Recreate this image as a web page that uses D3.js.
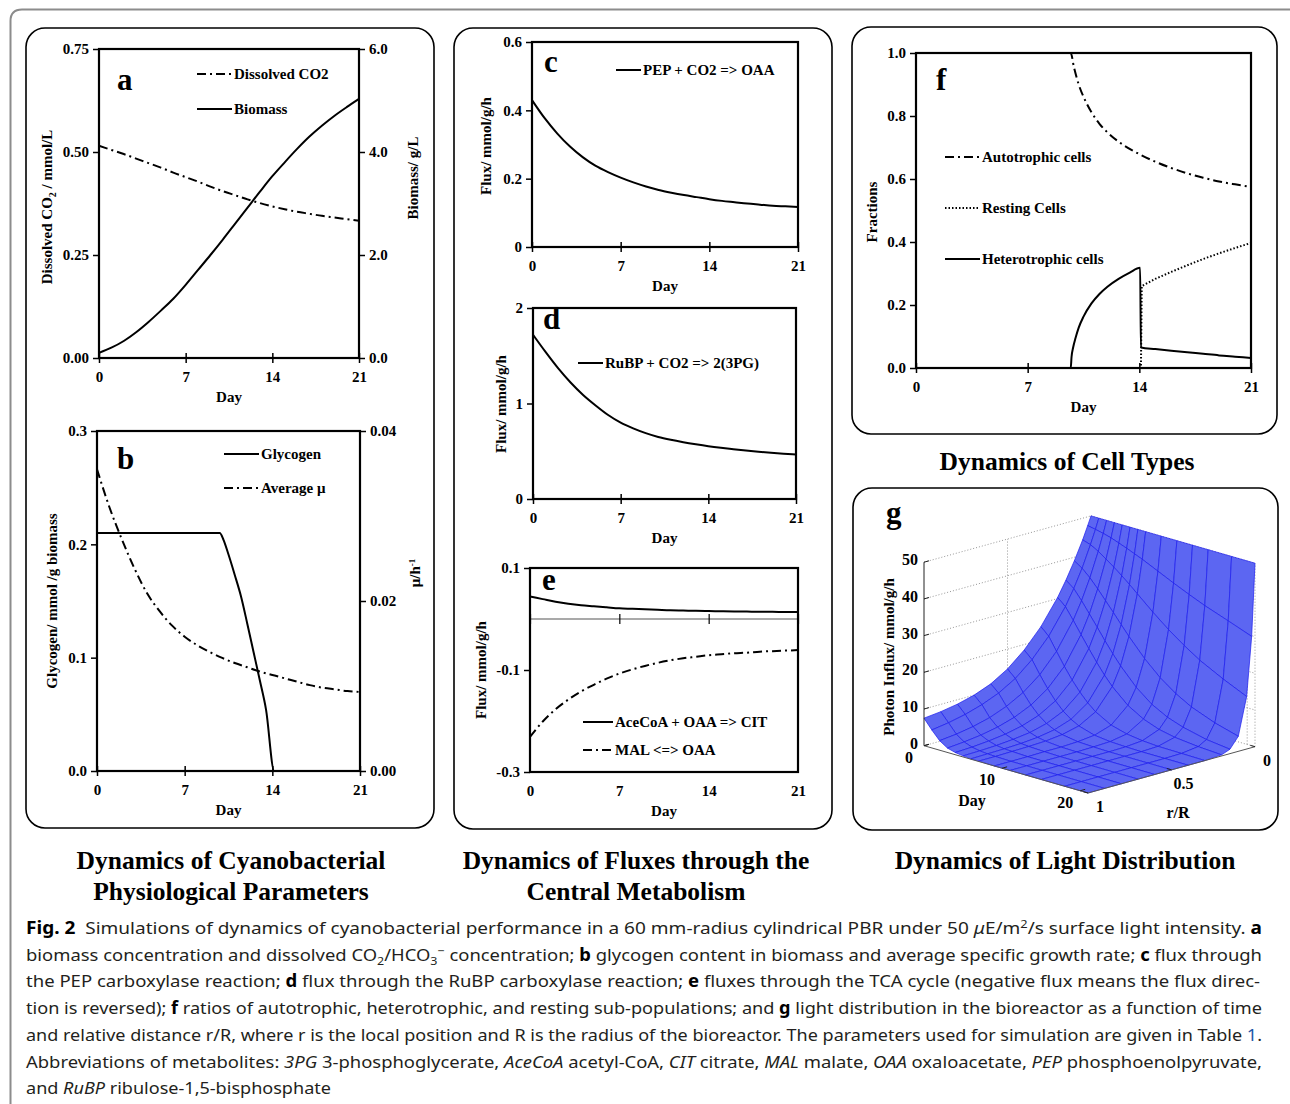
<!DOCTYPE html>
<html>
<head>
<meta charset="utf-8">
<script src="https://cdn.jsdelivr.net/npm/d3@7"></script>
<style>
  body { margin: 0; background: #fff; }
  svg { display: block; }
  text { font-family: 'Liberation Serif', 'Times New Roman', serif; font-weight: bold; fill: #000; }
  .caption text { font-family: 'Noto Sans', 'Open Sans', sans-serif; font-weight: normal; fill: #231f20; }
</style>
</head>
<body>
<div id="fig"></div>
<script>
// ---------- data ----------
const days = [0, 1, 2, 3, 4, 5, 6, 7, 8, 9, 10, 11, 12, 13, 14, 15, 16, 17, 18, 19, 20, 21]
const dayTicks = [0, 7, 14, 21]

// panel a
const dissolvedCO2 = [0.515, 0.505, 0.495, 0.484, 0.473, 0.462, 0.450, 0.439, 0.428, 0.416, 0.405, 0.395, 0.385, 0.376, 0.368, 0.361, 0.355, 0.350, 0.345, 0.341, 0.337, 0.333]
const biomass = [0.10, 0.20, 0.33, 0.50, 0.70, 0.92, 1.15, 1.42, 1.71, 2.00, 2.30, 2.61, 2.92, 3.23, 3.53, 3.80, 4.06, 4.30, 4.51, 4.70, 4.87, 5.03]

// panel b
const glycogenDays = [0, 9.8, 10.1, 10.5, 11.0, 11.5, 12.0, 12.5, 13.0, 13.5, 14.15, 21]
const glycogen = [0.21, 0.21, 0.204, 0.191, 0.173, 0.154, 0.130, 0.105, 0.080, 0.054, 0, 0]
const averageMu = [0.0355, 0.0310, 0.0272, 0.0238, 0.0209, 0.0188, 0.0171, 0.0158, 0.0148, 0.0140, 0.0133, 0.0127, 0.0122, 0.0117, 0.0113, 0.0109, 0.0105, 0.0101, 0.0098, 0.0096, 0.0094, 0.0093]

// panels c, d, e
const pepFlux = [0.43, 0.377, 0.332, 0.294, 0.263, 0.238, 0.219, 0.203, 0.189, 0.177, 0.167, 0.159, 0.152, 0.146, 0.140, 0.135, 0.131, 0.127, 0.124, 0.121, 0.119, 0.117]
const rubpFlux = [1.72, 1.54, 1.37, 1.22, 1.09, 0.98, 0.88, 0.80, 0.74, 0.69, 0.65, 0.62, 0.595, 0.573, 0.553, 0.536, 0.521, 0.507, 0.495, 0.484, 0.474, 0.465]
const citFlux = [0.044, 0.039, 0.034, 0.030, 0.027, 0.025, 0.023, 0.021, 0.020, 0.019, 0.018, 0.017, 0.0165, 0.016, 0.0156, 0.0152, 0.0148, 0.0145, 0.0142, 0.014, 0.0137, 0.0135]
const malFlux = [-0.231, -0.201, -0.177, -0.158, -0.142, -0.129, -0.117, -0.107, -0.099, -0.092, -0.086, -0.081, -0.077, -0.074, -0.071, -0.069, -0.067, -0.066, -0.064, -0.063, -0.062, -0.061]

// panel f
const autoDays = [0, 9.7, 9.9, 10.2, 10.6, 11, 11.5, 12, 13, 14, 15, 16, 17, 18, 19, 20, 21]
const autotrophic = [1.0, 1.0, 0.955, 0.900, 0.850, 0.812, 0.775, 0.748, 0.708, 0.679, 0.655, 0.635, 0.618, 0.604, 0.592, 0.583, 0.575]
const heteroDays = [0, 9.7, 9.75, 9.85, 10.0, 10.2, 10.5, 11.0, 11.5, 12.0, 12.7, 13.4, 14.05, 14.1, 15, 16, 17, 18, 19, 20, 21]
const heterotrophic = [0, 0, 0.035, 0.065, 0.095, 0.128, 0.163, 0.205, 0.235, 0.258, 0.283, 0.303, 0.318, 0.065, 0.060, 0.055, 0.050, 0.045, 0.040, 0.036, 0.032]
const restDays = [0, 14.1, 14.15, 15, 16, 17, 18, 19, 20, 21]
const resting = [0, 0, 0.26, 0.283, 0.305, 0.326, 0.346, 0.364, 0.381, 0.397]

// panel g: photon influx (rows = day, columns = r/R)
const lightDays = [0, 1, 2, 3, 4, 5, 6, 7, 9, 11, 13, 15, 18, 21]
const lightRR = [0, 0.02, 0.05, 0.1, 0.15, 0.2, 0.3, 0.4, 0.5, 0.6, 0.7, 0.8, 0.9, 1.0]
const lightInflux = [
  [50, 47.6, 44.1, 39.0, 34.4, 30.3, 23.6, 18.5, 14.6, 11.8, 10.0, 8.8, 8.0, 7.5],
  [50, 47.2, 43.4, 37.6, 32.7, 28.4, 21.6, 16.5, 12.6, 9.9, 8.0, 6.6, 5.6, 4.9],
  [50, 46.7, 42.2, 35.6, 30.0, 25.3, 18.1, 13.0, 9.4, 6.9, 5.1, 3.9, 3.1, 2.6],
  [50, 46.1, 40.7, 33.2, 27.0, 22.0, 14.6, 9.8, 6.6, 4.5, 3.1, 2.2, 1.6, 1.2],
  [50, 45.3, 39.1, 30.6, 24.0, 18.8, 11.5, 7.1, 4.4, 2.8, 1.8, 1.2, 0.8, 0.6],
  [50, 44.5, 37.4, 28.0, 20.9, 15.7, 8.8, 4.9, 2.8, 1.6, 1.0, 0.6, 0.4, 0.3],
  [50, 43.6, 35.6, 25.3, 18.0, 12.8, 6.5, 3.3, 1.7, 0.9, 0.5, 0.3, 0.2, 0.1],
  [50, 42.7, 33.7, 22.7, 15.3, 10.3, 4.7, 2.1, 1.0, 0.5, 0.3, 0.2, 0.1, 0.1],
  [50, 40.7, 29.9, 17.9, 10.7, 6.4, 2.3, 0.8, 0.3, 0.1, 0.1, 0, 0, 0],
  [50, 38.7, 26.4, 13.9, 7.3, 3.9, 1.1, 0.3, 0.1, 0, 0, 0, 0, 0],
  [50, 36.8, 23.3, 10.8, 5.0, 2.3, 0.5, 0.1, 0, 0, 0, 0, 0, 0],
  [50, 35.0, 20.5, 8.4, 3.5, 1.4, 0.2, 0, 0, 0, 0, 0, 0, 0],
  [50, 32.7, 17.2, 5.9, 2.0, 0.7, 0.1, 0, 0, 0, 0, 0, 0, 0],
  [50, 30.3, 14.3, 4.1, 1.2, 0.3, 0, 0, 0, 0, 0, 0, 0, 0]
]
const lightZTicks = [0, 10, 20, 30, 40, 50]
const lightDayTicks = [0, 10, 20]
const lightRTicks = [0, 0.5, 1]

// ---------- drawing ----------
const FS = 15
const svg = d3.select('#fig').append('svg')
    .attr('width', 1290)
    .attr('height', 1104)

// outer figure frame
svg.append('path')
    .attr('d', 'M10.5,1104 V21 Q10.5,9.5 22,9.5 H1290')
    .attr('fill', 'none')
    .attr('stroke', '#8c8c8c')
    .attr('stroke-width', 2)

// rounded panel boxes
const boxes = [[26, 28, 434, 828], [454, 28, 832, 829], [852, 27, 1277, 434], [853, 488, 1278, 830]]
boxes.forEach(([x0, y0, x1, y1]) => {
    svg.append('rect')
        .attr('x', x0).attr('y', y0)
        .attr('width', x1 - x0).attr('height', y1 - y0)
        .attr('rx', 19)
        .attr('fill', 'none')
        .attr('stroke', '#000')
        .attr('stroke-width', 1.6)
})

function styleAxis(sel) {
    sel.select('.domain').remove()
    sel.selectAll('line').attr('stroke', '#000').attr('stroke-width', 1.5)
    sel.selectAll('text').attr('font-size', FS).attr('fill', '#000')
}

function makePanel(p) {
    const x = d3.scaleLinear().domain([0, 21]).range([p.x0, p.x1])
    const y = d3.scaleLinear().domain(p.yDomain).range([p.y1, p.y0])
    const yR = p.yRDomain ? d3.scaleLinear().domain(p.yRDomain).range([p.y1, p.y0]) : null

    svg.append('g')
        .attr('transform', `translate(${p.x0},0)`)
        .call(d3.axisLeft(y).tickValues(p.yTicks).tickFormat(p.yFormat).tickSize(6).tickPadding(4))
        .call(styleAxis)

    if (yR) {
        svg.append('g')
            .attr('transform', `translate(${p.x1},0)`)
            .call(d3.axisRight(yR).tickValues(p.yRTicks).tickFormat(p.yRFormat).tickSize(6).tickPadding(4))
            .call(styleAxis)
    }

    if (p.zeroLine) {
        // labels stay at the bottom, ticks sit on the zero line
        svg.append('g')
            .attr('transform', `translate(0,${p.y1})`)
            .call(d3.axisBottom(x).tickValues(dayTicks).tickSize(0).tickPadding(13))
            .call(styleAxis)
        svg.append('line')
            .attr('x1', p.x0).attr('x2', p.x1)
            .attr('y1', y(0)).attr('y2', y(0))
            .attr('stroke', '#555').attr('stroke-width', 1.2)
        svg.append('g')
            .attr('transform', `translate(0,${y(0)})`)
            .call(d3.axisBottom(x).tickValues(dayTicks).tickFormat('').tickSize(5))
            .call(styleAxis)
            .call(g => g.selectAll('line').attr('y1', -5).attr('stroke-width', 1.2))
    } else {
        svg.append('g')
            .attr('transform', `translate(0,${p.y1})`)
            .call(d3.axisBottom(x).tickValues(dayTicks).tickSize(5).tickPadding(8))
            .call(styleAxis)
            .call(g => g.selectAll('line').attr('y1', -5))
    }

    svg.append('text')
        .attr('x', (p.x0 + p.x1) / 2)
        .attr('y', p.y1 + 44)
        .attr('text-anchor', 'middle')
        .attr('font-size', FS)
        .text('Day')

    svg.append('text')
        .attr('x', p.letter[0])
        .attr('y', p.letter[1])
        .attr('font-size', 31)
        .text(p.name)

    return { x, y, yR, p }
}

function frame(panel) {
    const p = panel.p
    svg.append('rect')
        .attr('x', p.x0).attr('y', p.y0)
        .attr('width', p.x1 - p.x0).attr('height', p.y1 - p.y0)
        .attr('fill', 'none')
        .attr('stroke', '#000')
        .attr('stroke-width', 2.2)
}

function drawSeries(panel, xs, ys, scale, dash, curve) {
    svg.append('path')
        .datum(d3.zip(xs, ys))
        .attr('d', d3.line()
            .x(d => panel.x(d[0]))
            .y(d => scale(d[1]))
            .curve(curve || d3.curveMonotoneX))
        .attr('fill', 'none')
        .attr('stroke', '#000')
        .attr('stroke-width', 2)
        .attr('stroke-dasharray', dash)
}

function legendItem(x, y, len, dash, label) {
    svg.append('line')
        .attr('x1', x).attr('x2', x + len)
        .attr('y1', y).attr('y2', y)
        .attr('stroke', '#000')
        .attr('stroke-width', 2)
        .attr('stroke-dasharray', dash)
    svg.append('text')
        .attr('x', x + len + 2)
        .attr('y', y + 5)
        .attr('font-size', FS)
        .text(label)
}

function verticalTitle(x, y, parts) {
    const t = svg.append('text')
        .attr('transform', `translate(${x},${y}) rotate(-90)`)
        .attr('text-anchor', 'middle')
        .attr('font-size', FS)
    parts.forEach(([s, shift, size]) => {
        t.append('tspan')
            .attr('dy', shift)
            .attr('font-size', size || FS)
            .text(s)
    })
}

const fmt1 = d => d.toFixed(1)
const dashDot = '9,4,2,4'
const dotted = '1.5,2'

// panel a
const pa = makePanel({
    name: 'a', letter: [117, 90],
    x0: 99, x1: 359, y0: 49, y1: 358,
    yDomain: [0, 0.75], yTicks: [0, 0.25, 0.5, 0.75], yFormat: d => d.toFixed(2),
    yRDomain: [0, 6], yRTicks: [0, 2, 4, 6], yRFormat: fmt1
})
drawSeries(pa, days, dissolvedCO2, pa.y, dashDot)
drawSeries(pa, days, biomass, pa.yR)
frame(pa)
legendItem(197, 74, 35, dashDot, 'Dissolved CO2')
legendItem(197, 109, 35, null, 'Biomass')
verticalTitle(52, 207, [['Dissolved CO', 0], ['2', 4, 10], [' / mmol/L', -4]])
verticalTitle(418, 178, [['Biomass/ g/L', 0]])

// panel b
const pb = makePanel({
    name: 'b', letter: [117, 469],
    x0: 97, x1: 360, y0: 431, y1: 771,
    yDomain: [0, 0.3], yTicks: [0, 0.1, 0.2, 0.3], yFormat: fmt1,
    yRDomain: [0, 0.04], yRTicks: [0, 0.02, 0.04], yRFormat: d => d.toFixed(2)
})
drawSeries(pb, glycogenDays, glycogen, pb.y)
drawSeries(pb, days, averageMu, pb.yR, dashDot)
frame(pb)
legendItem(224, 454, 35, null, 'Glycogen')
legendItem(224, 488, 35, dashDot, 'Average μ')
verticalTitle(57, 601, [['Glycogen/ mmol /g biomass', 0]])
verticalTitle(420, 573, [['μ/h', 0], ['-1', -5, 9]])

// panel c
const pc = makePanel({
    name: 'c', letter: [544, 72],
    x0: 532, x1: 798, y0: 42, y1: 247,
    yDomain: [0, 0.6], yTicks: [0, 0.2, 0.4, 0.6], yFormat: d => d === 0 ? '0' : d.toFixed(1)
})
drawSeries(pc, days, pepFlux, pc.y)
frame(pc)
legendItem(616, 70, 25, null, 'PEP + CO2 => OAA')
verticalTitle(491, 146, [['Flux/ mmol/g/h', 0]])

// panel d
const pd = makePanel({
    name: 'd', letter: [543, 329],
    x0: 533, x1: 796, y0: 308, y1: 499,
    yDomain: [0, 2], yTicks: [0, 1, 2], yFormat: d => String(d)
})
drawSeries(pd, days, rubpFlux, pd.y)
frame(pd)
legendItem(578, 363, 25, null, 'RuBP + CO2 => 2(3PG)')
verticalTitle(506, 404, [['Flux/ mmol/g/h', 0]])

// panel e
const pe = makePanel({
    name: 'e', letter: [542, 590], zeroLine: true,
    x0: 530, x1: 798, y0: 568, y1: 772,
    yDomain: [-0.3, 0.1], yTicks: [-0.3, -0.1, 0.1], yFormat: fmt1
})
drawSeries(pe, days, citFlux, pe.y)
drawSeries(pe, days, malFlux, pe.y, dashDot)
frame(pe)
legendItem(583, 722, 30, null, 'AceCoA + OAA => CIT')
legendItem(583, 750, 30, dashDot, 'MAL <=> OAA')
verticalTitle(486, 670, [['Flux/ mmol/g/h', 0]])

// panel f
const pf = makePanel({
    name: 'f', letter: [936, 90],
    x0: 916, x1: 1251, y0: 53, y1: 368,
    yDomain: [0, 1], yTicks: [0, 0.2, 0.4, 0.6, 0.8, 1], yFormat: fmt1
})
drawSeries(pf, autoDays, autotrophic, pf.y, dashDot)
drawSeries(pf, restDays, resting, pf.y, dotted, d3.curveLinear)
drawSeries(pf, heteroDays, heterotrophic, pf.y)
frame(pf)
legendItem(945, 157, 35, dashDot, 'Autotrophic cells')
legendItem(945, 208, 35, dotted, 'Resting Cells')
legendItem(945, 259, 35, null, 'Heterotrophic cells')
verticalTitle(877, 212, [['Fractions', 0]])

// ---------- panel g: 3-D surface ----------
const cornerB = [1091, 699.4]   // day 0, r/R 0
const cornerR = [1255, 746.7]   // day 21, r/R 0
const cornerL = [924, 745.7]    // day 0, r/R 1
const dayU = d3.scaleLinear().domain([0, 21]).range([0, 1])
const zPx = d3.scaleLinear().domain([0, 50]).range([0, 183.5])
const proj = (day, r, z) => {
    const u = dayU(day)
    return [
        cornerB[0] + u * (cornerR[0] - cornerB[0]) + r * (cornerL[0] - cornerB[0]),
        cornerB[1] + u * (cornerR[1] - cornerB[1]) + r * (cornerL[1] - cornerB[1]) - zPx(z)
    ]
}
const gLine = (a, b) => svg.append('line')
    .attr('x1', a[0]).attr('y1', a[1]).attr('x2', b[0]).attr('y2', b[1])

// back-wall grid (dotted)
const grid = []
lightZTicks.forEach(z => {
    grid.push([proj(0, 1, z), proj(0, 0, z)])
    grid.push([proj(0, 0, z), proj(21, 0, z)])
})
grid.push([proj(0, 0.5, 0), proj(0, 0.5, 50)])
grid.push([proj(0, 0, 0), proj(0, 0, 50)])
grid.push([proj(21, 0, 0), proj(21, 0, 50)])
lightDayTicks.forEach(d => grid.push([proj(d, 0, 0), proj(d, 0, 50)]))
grid.forEach(([a, b]) => gLine(a, b)
    .attr('stroke', '#8a8a8a').attr('stroke-width', 0.9).attr('stroke-dasharray', '1,2'))

// surface quads, painted back to front
const quads = []
for (let i = 0; i < lightDays.length - 1; i++) {
    for (let j = 0; j < lightRR.length - 1; j++) {
        const idx = [[i, j], [i + 1, j], [i + 1, j + 1], [i, j + 1]]
        quads.push({
            pts: idx.map(([a, b]) => proj(lightDays[a], lightRR[b], lightInflux[a][b])),
            depth: dayU((lightDays[i] + lightDays[i + 1]) / 2) + (lightRR[j] + lightRR[j + 1]) / 2
        })
    }
}
quads.sort((a, b) => a.depth - b.depth)
svg.append('g').selectAll('polygon')
    .data(quads)
    .join('polygon')
    .attr('points', d => d.pts.map(p => p.join(',')).join(' '))
    .attr('fill', '#5c66f2')
    .attr('stroke', '#1c1cee')
    .attr('stroke-width', 0.7)
    .attr('stroke-linejoin', 'round')

// axes of the 3-D box
gLine(proj(0, 1, 0), proj(0, 1, 50)).attr('stroke', '#222').attr('stroke-width', 1)
gLine(proj(0, 1, 0), proj(21, 1, 0)).attr('stroke', '#555').attr('stroke-width', 1)
gLine(proj(21, 1, 0), proj(21, 0, 0)).attr('stroke', '#555').attr('stroke-width', 1)
lightZTicks.forEach(z => {
    const p = proj(0, 1, z)
    gLine(p, proj(0, 0.97, z)).attr('stroke', '#222').attr('stroke-width', 1)
    svg.append('text')
        .attr('x', p[0] - 6).attr('y', p[1] + 3)
        .attr('text-anchor', 'end')
        .attr('font-size', 16)
        .text(z)
})
lightDayTicks.forEach(d => {
    const p = proj(d, 1, 0)
    gLine(p, proj(d, 0.97, 0)).attr('stroke', '#222').attr('stroke-width', 1)
    svg.append('text')
        .attr('x', p[0] - 15).attr('y', p[1] + 17)
        .attr('text-anchor', 'middle')
        .attr('font-size', 16)
        .text(d)
})
lightRTicks.forEach(r => {
    const p = proj(21, r, 0)
    gLine(p, proj(20.4, r, 0)).attr('stroke', '#222').attr('stroke-width', 1)
    svg.append('text')
        .attr('x', p[0] + 12).attr('y', p[1] + 19)
        .attr('text-anchor', 'middle')
        .attr('font-size', 16)
        .text(r)
})
svg.append('text').attr('x', 972).attr('y', 806).attr('text-anchor', 'middle').attr('font-size', 16).text('Day')
svg.append('text').attr('x', 1178).attr('y', 818).attr('text-anchor', 'middle').attr('font-size', 16).text('r/R')
verticalTitle(894, 657, [['Photon Influx/ mmol/g/h', 0]])
svg.append('text').attr('x', 886).attr('y', 523).attr('font-size', 31).text('g')

// ---------- group titles ----------
const groupTitles = [
    ['Dynamics of Cell Types', 1067, 470],
    ['Dynamics of Cyanobacterial', 231, 869],
    ['Physiological Parameters', 231, 900],
    ['Dynamics of Fluxes through the', 636, 869],
    ['Central Metabolism', 636, 900],
    ['Dynamics of Light Distribution', 1065, 869]
]
groupTitles.forEach(([s, x, y]) => svg.append('text')
    .attr('x', x).attr('y', y)
    .attr('text-anchor', 'middle')
    .attr('font-size', 25.5)
    .text(s))

// ---------- caption ----------
const captionLines = [
    [['Fig. 2', 'b'], ['  Simulations of dynamics of cyanobacterial performance in a 60 mm-radius cylindrical PBR under 50 ', ''], ['μ', 'i'], ['E/m', ''], ['2', 'sup'], ['/s surface light intensity. ', ''], ['a', 'b']],
    [['biomass concentration and dissolved CO', ''], ['2', 'sub'], ['/HCO', ''], ['3', 'sub'], ['−', 'sup'], [' concentration; ', ''], ['b', 'b'], [' glycogen content in biomass and average specific growth rate; ', ''], ['c', 'b'], [' flux through', '']],
    [['the PEP carboxylase reaction; ', ''], ['d', 'b'], [' flux through the RuBP carboxylase reaction; ', ''], ['e', 'b'], [' fluxes through the TCA cycle (negative flux means the flux direc-', '']],
    [['tion is reversed); ', ''], ['f', 'b'], [' ratios of autotrophic, heterotrophic, and resting sub-populations; and ', ''], ['g', 'b'], [' light distribution in the bioreactor as a function of time', '']],
    [['and relative distance r/R, where r is the local position and R is the radius of the bioreactor. The parameters used for simulation are given in Table ', ''], ['1', 'link'], ['.', '']],
    [['Abbreviations of metabolites: ', ''], ['3PG', 'i'], [' 3-phosphoglycerate, ', ''], ['AceCoA', 'i'], [' acetyl-CoA, ', ''], ['CIT', 'i'], [' citrate, ', ''], ['MAL', 'i'], [' malate, ', ''], ['OAA', 'i'], [' oxaloacetate, ', ''], ['PEP', 'i'], [' phosphoenolpyruvate,', '']],
    [['and ', ''], ['RuBP', 'i'], [' ribulose-1,5-bisphosphate', '']]
]
const captionWidths = [1236, 1236, 1234, 1236, 1236, 1236, 305]
const cap = svg.append('g').attr('class', 'caption')
captionLines.forEach((segs, li) => {
    const t = cap.append('text')
        .attr('x', 26)
        .attr('y', 934 + li * 26.7)
        .attr('font-size', 17)
        .attr('textLength', captionWidths[li])
        .attr('lengthAdjust', 'spacingAndGlyphs')
        .style('white-space', 'pre')
    let shift = 0
    segs.forEach(([s, style]) => {
        const target = style === 'sub' ? 4 : style === 'sup' ? -6 : 0
        const ts = t.append('tspan').attr('dy', target - shift).text(s)
        shift = target
        if (style === 'b') ts.style('font-weight', 'bold').style('fill', '#000')
        if (style === 'i') ts.style('font-style', 'italic')
        if (style === 'sub' || style === 'sup') ts.attr('font-size', 11.5)
        if (style === 'link') ts.style('fill', '#1a56a8')
    })
})
</script>
</body>
</html>
